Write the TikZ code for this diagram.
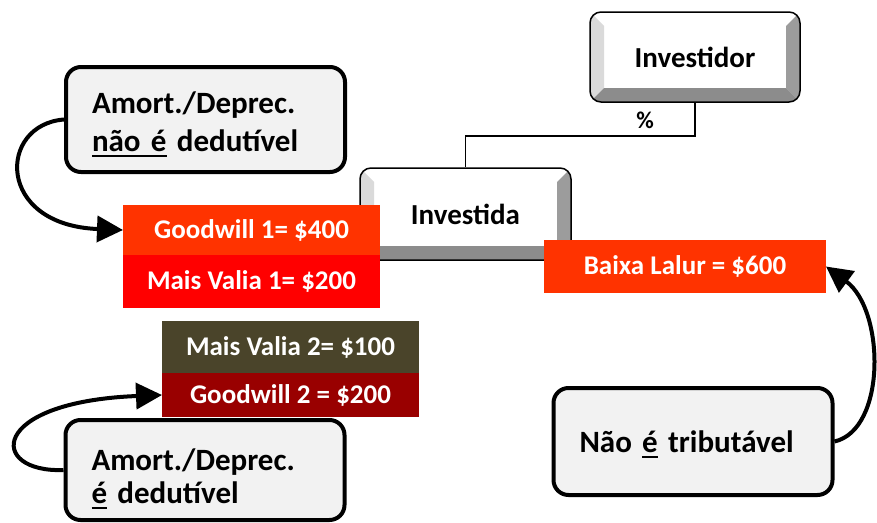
\documentclass[tikz,border=0pt]{standalone}
\usepackage{fontspec}
\setmainfont{Carlito}
\usetikzlibrary{positioning, arrows.meta}

\definecolor{tagorange}{HTML}{FF3300}
\definecolor{tagred}{HTML}{FF0000}
\definecolor{tagolive}{HTML}{4A442A}
\definecolor{tagdarkred}{HTML}{990000}
\definecolor{callgray}{HTML}{F2F2F2}
\definecolor{bevlight}{HTML}{DADADA}
\definecolor{bevmid}{HTML}{9C9C9C}
\definecolor{bevdark}{HTML}{8C8C8C}

\newcommand{\ulin}[1]{\leavevmode\setbox0=\hbox{#1}\rlap{\rule[-6pt]{\wd0}{2.8pt}}\box0\relax}

\tikzset{
	bevel/.style={
		draw,
		line width=1.5pt,
		rounded corners=11pt,
		fill=white,
		minimum width=210pt,
		minimum height=90pt,
		font={\fontsize{29}{34}\selectfont\bfseries},
		path picture={
			\fill[bevlight, sharp corners] (path picture bounding box.north west)
				-- ++(14pt,-14pt) -- ([shift={(14pt,14pt)}]path picture bounding box.south west)
				-- (path picture bounding box.south west) -- cycle;
			\fill[bevmid, sharp corners] (path picture bounding box.north east)
				-- ++(-14pt,-14pt) -- ([shift={(-14pt,14pt)}]path picture bounding box.south east)
				-- (path picture bounding box.south east) -- cycle;
			\fill[bevdark, sharp corners] (path picture bounding box.south west)
				-- ++(14pt,14pt) -- ([shift={(-14pt,14pt)}]path picture bounding box.south east)
				-- (path picture bounding box.south east) -- cycle;
		}
	},
	tag/.style={
		text=white,
		font={\fontsize{27}{31}\selectfont\bfseries},
		minimum width=257pt,
		inner sep=0pt,
		outer sep=0pt
	},
	callout/.style={
		draw,
		line width=4pt,
		rounded corners=15pt,
		fill=callgray,
		text width=227pt,
		align=left,
		inner xsep=26pt,
		font={\fontsize{31}{38}\selectfont\bfseries}
	},
	drop/.style={
		execute at end node={\vspace{-#1}}
	},
	callarrow/.style={
		-{Triangle[length=26pt,width=26pt]},
		line width=4pt
	}
}

\begin{document}
\begin{tikzpicture}[x=1pt, y=-1pt]
\useasboundingbox (0,0) rectangle (877,522);

\node(invr)[bevel] at (695,57){Investidor};
\node(inv)[bevel, minimum width=211pt, minimum height=92pt] at (465.5,214){Investida};

\draw[line width=1.5pt] (invr.south) -- node[pos=1, anchor=south east, xshift=-37pt, yshift=3pt,
	font={\fontsize{24}{28}\selectfont\bfseries}]{\%} ++(0,33) -| (inv.north);

\node(gw1)[tag, fill=tagorange, minimum height=50pt] at (251.5,230){Goodwill 1= \$400};
\node(mv1)[tag, fill=tagred, minimum height=53pt, below=0pt of gw1]{Mais Valia 1= \$200};
\node(bl)[tag, fill=tagorange, minimum width=282pt, minimum height=53pt] at (685,266.5){Baixa Lalur = \$600};
\node(mv2)[tag, fill=tagolive, minimum height=52pt] at (290.5,347){Mais Valia 2= \$100};
\node(gw2)[tag, fill=tagdarkred, minimum height=44pt, below=0pt of mv2]{Goodwill 2 = \$200};

\node(c1)[callout, drop=10pt, minimum height=105pt] at (205.5,119.5){Amort./Deprec.\\ \ulin{não é} dedutível};
\node(c2)[callout, drop=18pt, minimum height=100pt, font={\fontsize{31}{33}\selectfont\bfseries}] at (205,470){Amort./Deprec.\\ \ulin{é} dedutível};
\node(c3)[callout, drop=8pt, minimum height=107pt] at (693,441.5){Não \ulin{é} tributável};

\draw[callarrow] (c1.west) .. controls +(-66,5) and +(-128,-5) .. (gw1.west);
\draw[callarrow] (c2.west) .. controls +(-75,3) and +(-175,7) .. (gw2.west);
\draw[callarrow] (c3.east) .. controls +(52,-12) and +(59,43.5) .. (bl.east);

\end{tikzpicture}
\end{document}
